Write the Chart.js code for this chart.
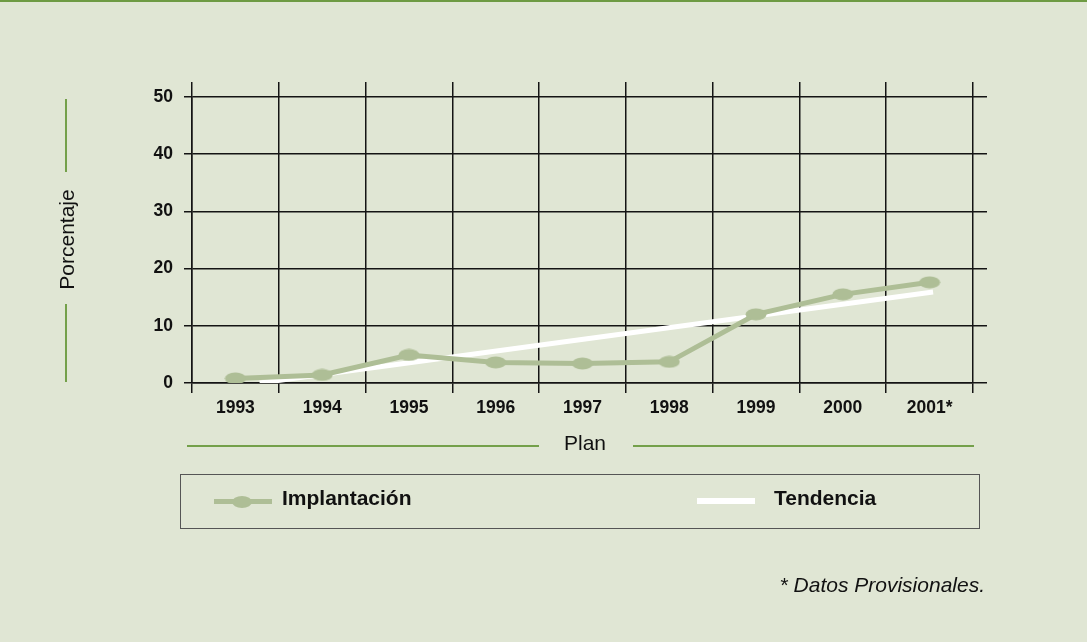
<!DOCTYPE html>
<html><head><meta charset="utf-8">
<script src="https://cdn.jsdelivr.net/npm/chart.js@4.4.1/dist/chart.umd.min.js"></script>
<style>
html,body{margin:0;padding:0;}
body{width:1087px;height:642px;background:#e0e6d4;position:relative;overflow:hidden;font-family:"Liberation Sans",Arial,sans-serif;color:#111;}
#topline{position:absolute;left:0;top:0;width:1087px;height:2px;background:#6e9b43;}
#c{position:absolute;left:0;top:0;}
.abs{position:absolute;white-space:nowrap;}
.gline{position:absolute;background:#74a04a;}
.t21{font-size:21px;line-height:21px;}
</style></head>
<body>
<div id="topline"></div>
<canvas id="c" width="1087" height="642"></canvas>

<div class="gline" style="left:65px;top:99px;width:2px;height:73px;"></div>
<div class="gline" style="left:65px;top:304px;width:2px;height:78px;"></div>
<div class="abs t21" id="ytitle" style="left:-34px;top:229px;width:200px;text-align:center;transform:rotate(-90deg);transform-origin:100px 10.5px;">Porcentaje</div>

<div class="gline" style="left:187px;top:445px;width:352px;height:2px;"></div>
<div class="gline" style="left:633px;top:445px;width:341px;height:2px;"></div>
<div class="abs t21" id="xtitle" style="left:485px;top:432px;width:200px;text-align:center;">Plan</div>

<div class="abs" style="left:180px;top:474px;width:798px;height:53px;border:1.5px solid #555;"></div>
<div class="abs" style="left:214px;top:499px;width:58px;height:5px;background:#aebe96;"></div>
<div class="abs" style="left:232px;top:496px;width:20px;height:12px;border-radius:50%;background:#aebe96;"></div>
<div class="abs t21" id="leg1" style="left:282px;top:487px;font-weight:bold;"></div>
<div class="abs" style="left:697px;top:498px;width:58px;height:6px;background:#ffffff;"></div>
<div class="abs t21" id="leg2" style="left:774px;top:487px;font-weight:bold;"></div>

<div class="abs t21" style="right:102px;top:574px;font-style:italic;">* Datos Provisionales.</div>

<script>
// ---- data ----
const categories = ['1993', '1994', '1995', '1996', '1997', '1998', '1999', '2000', '2001*'];
const implantacion = [0.8, 1.4, 4.9, 3.6, 3.4, 3.7, 12.0, 15.5, 17.6];
// trend line end points (x in category-index units, y in %)
const tendenciaX = [0.28, 8.04];
const tendenciaY = [0, 15.9];
const yTicks = [0, 10, 20, 30, 40, 50];
const seriesNames = ['Implantación', 'Tendencia'];

document.getElementById('leg1').textContent = seriesNames[0];
document.getElementById('leg2').textContent = seriesNames[1];

// ellipse marker
const mk = document.createElement('canvas');
mk.width = 22; mk.height = 13;
const mctx = mk.getContext('2d');
mctx.fillStyle = '#aebe96';
mctx.beginPath();
mctx.ellipse(11, 6.5, 10.5, 6, 0, 0, Math.PI * 2);
mctx.fill();

const gridColor = '#141414';
const tickFont = { family: 'Liberation Sans', size: 17.5, weight: 'bold' };

new Chart(document.getElementById('c'), {
  type: 'line',
  data: {
    labels: categories,
    datasets: [
      {
        label: seriesNames[0],
        data: implantacion,
        xAxisID: 'x',
        yAxisID: 'y',
        borderColor: '#aebe96',
        backgroundColor: '#aebe96',
        borderWidth: 5,
        pointStyle: mk,
        pointRadius: 6,
        tension: 0,
        order: 0
      },
      {
        label: seriesNames[1],
        data: tendenciaX.map((x, i) => ({ x: x, y: tendenciaY[i] })),
        xAxisID: 'xTrend',
        yAxisID: 'y',
        borderColor: '#ffffff',
        borderWidth: 5,
        pointRadius: 0,
        tension: 0,
        order: 1
      }
    ]
  },
  options: {
    responsive: false,
    animation: false,
    layout: { padding: { left: 132, top: 82, right: 100, bottom: 219 } },
    plugins: { legend: { display: false }, tooltip: { enabled: false } },
    scales: {
      x: {
        type: 'category',
        position: 'bottom',
        offset: true,
        grid: { offset: true, color: gridColor, lineWidth: 1.5, drawTicks: true, tickLength: 10, tickColor: gridColor },
        border: { color: gridColor, width: 1.5 },
        ticks: { color: '#111', font: tickFont, padding: 5, maxRotation: 0, autoSkip: false },
        afterFit: (s) => { s.height = 40; }
      },
      xTop: {
        type: 'category',
        position: 'top',
        offset: true,
        grid: { offset: true, color: gridColor, lineWidth: 1.5, drawOnChartArea: false, drawTicks: true, tickLength: 15, tickColor: gridColor },
        border: { display: false },
        ticks: { display: false },
        afterFit: (s) => { s.height = 15; }
      },
      xTrend: {
        type: 'linear',
        display: false,
        min: -0.5,
        max: 8.5
      },
      y: {
        type: 'linear',
        position: 'left',
        min: yTicks[0],
        max: yTicks[yTicks.length - 1],
        afterBuildTicks: (s) => { s.ticks = yTicks.map(v => ({ value: v })); },
        grid: { color: gridColor, lineWidth: 1.5, drawTicks: true, tickLength: 8, tickColor: gridColor },
        border: { color: gridColor, width: 1.5 },
        ticks: { color: '#111', font: tickFont, padding: 11 },
        afterFit: (s) => { s.width = 60; }
      },
      yRight: {
        type: 'linear',
        position: 'right',
        min: yTicks[0],
        max: yTicks[yTicks.length - 1],
        afterBuildTicks: (s) => { s.ticks = yTicks.map(v => ({ value: v })); },
        grid: { color: gridColor, lineWidth: 1.5, drawOnChartArea: false, drawTicks: true, tickLength: 14, tickColor: gridColor },
        border: { display: false },
        ticks: { display: false },
        afterFit: (s) => { s.width = 14; }
      }
    }
  }
});
</script>
</body></html>
